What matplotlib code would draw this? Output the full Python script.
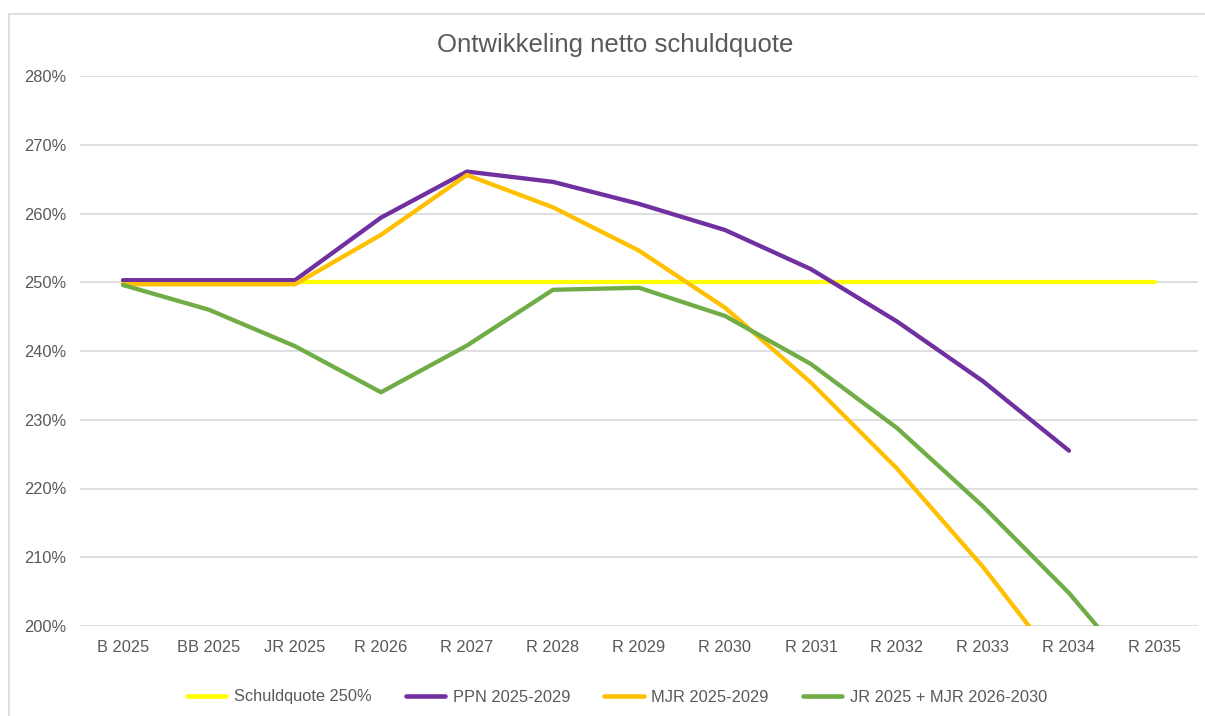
import matplotlib.pyplot as plt
from matplotlib.patches import Rectangle

categories = ['B 2025', 'BB 2025', 'JR 2025', 'R 2026', 'R 2027', 'R 2028', 'R 2029',
              'R 2030', 'R 2031', 'R 2032', 'R 2033', 'R 2034', 'R 2035']

schuldquote = [250] * 13
ppn = [250.3, 250.3, 250.3, 259.4, 266.1, 264.6, 261.4, 257.6, 251.9, 244.3, 235.6, 225.5]
mjr = [249.7, 249.7, 249.7, 256.9, 265.6, 260.9, 254.6, 246.3, 235.4, 222.9, 208.6, 192.5]
jr_mjr = [249.6, 246.0, 240.7, 234.0, 240.8, 248.9, 249.2, 245.1, 238.1, 228.8, 217.4, 204.8, 190.0]

yticks = [200, 210, 220, 230, 240, 250, 260, 270, 280]

grey = '#595959'
plt.rcParams['font.family'] = ['Liberation Sans', 'DejaVu Sans']

fig = plt.figure(figsize=(12.05, 7.16), dpi=100)
fig.patches.append(Rectangle((9 / 1205, -0.1), 1.2, 1 - 14 / 716 + 0.1, transform=fig.transFigure,
                             facecolor='white', edgecolor='#d9d9d9', linewidth=1.2, zorder=-5))

ax = fig.add_axes([80 / 1205, 90 / 716, 1118 / 1205, 550 / 716])
ax.set_facecolor('none')
ax.set_zorder(2)

ax.plot(range(len(schuldquote)), schuldquote, color='#ffff00', lw=3.1, label='Schuldquote 250%', solid_capstyle='round')
ax.plot(range(len(ppn)), ppn, color='#7030a0', lw=3.1, label='PPN 2025-2029', solid_capstyle='round')
ax.plot(range(len(mjr)), mjr, color='#ffc000', lw=3.1, label='MJR 2025-2029', solid_capstyle='round')
ax.plot(range(len(jr_mjr)), jr_mjr, color='#70ad47', lw=3.1, label='JR 2025 + MJR 2026-2030', solid_capstyle='round')

ax.set_xlim(-0.5, len(categories) - 0.5)
ax.set_ylim(200, 280)
ax.set_xticks(range(len(categories)))
ax.set_xticklabels(categories)
ax.set_yticks(yticks)
ax.set_yticklabels(['{}%'.format(v) for v in yticks])
ax.grid(axis='y', color='#d9d9d9', lw=1.2)
ax.set_axisbelow(True)
for s in ax.spines.values():
    s.set_visible(False)
ax.tick_params(axis='both', length=0, labelsize=11.8, colors=grey)
ax.tick_params(axis='y', pad=10)
ax.tick_params(axis='x', pad=10)

fig.text(615 / 1205, 1 - 45 / 716, 'Ontwikkeling netto schuldquote', ha='center', va='center',
         fontsize=18.5, color=grey)

leg = fig.legend(loc='center', bbox_to_anchor=(617 / 1205, 1 - 697 / 716), ncol=4, frameon=False,
                 fontsize=11.8, labelcolor=grey, handlelength=2.4, handletextpad=0.45, columnspacing=2.1)
for h in leg.legend_handles:
    h.set_linewidth(3.3)

fig.savefig('out.png', dpi=100)
